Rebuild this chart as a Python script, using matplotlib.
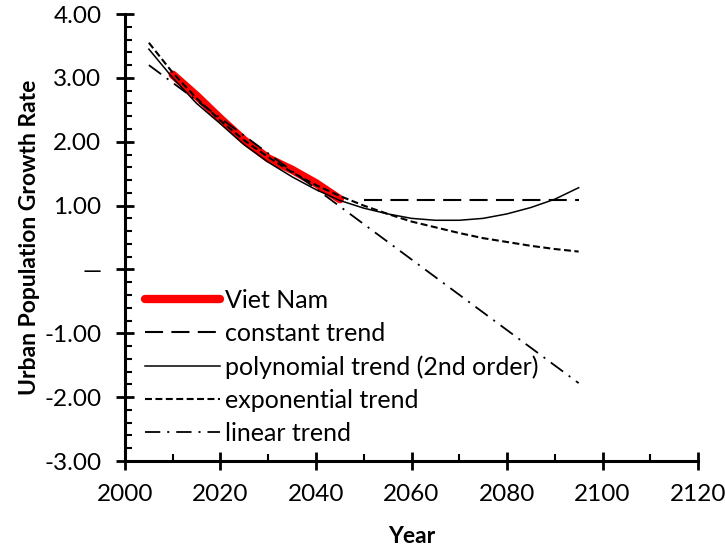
import matplotlib
matplotlib.use("Agg")
import matplotlib.pyplot as plt
from matplotlib.ticker import MultipleLocator, FuncFormatter

plt.rcParams['font.family'] = ['Lato', 'DejaVu Sans']
plt.rcParams['lines.scale_dashes'] = False

# observed series
vn_years = [2010, 2015, 2020, 2025, 2030, 2035, 2040, 2045]
vn_rate = [3.05, 2.72, 2.36, 2.02, 1.74, 1.56, 1.35, 1.10]

# trends
const_years = [2050, 2095]
const_rate = [1.08, 1.08]

trend_years = [2005, 2010, 2015, 2020, 2025, 2030, 2035, 2040, 2045, 2050,
               2055, 2060, 2065, 2070, 2075, 2080, 2085, 2090, 2095]
poly_rate = [3.45, 3.00, 2.60, 2.28, 1.95, 1.68, 1.45, 1.25, 1.08, 0.96,
             0.87, 0.80, 0.77, 0.77, 0.80, 0.87, 0.97, 1.10, 1.28]
exp_rate = [3.55, 3.08, 2.68, 2.33, 2.02, 1.76, 1.52, 1.32, 1.15, 1.00,
            0.87, 0.75, 0.66, 0.57, 0.49, 0.43, 0.37, 0.32, 0.28]

lin_years = [2005, 2095]
lin_rate = [3.20, -1.78]

fig = plt.figure(figsize=(7.25, 5.5), dpi=100)
ax = fig.add_axes([0.1724, 0.1618, 0.7904, 0.8127])

ax.plot(vn_years, vn_rate, color="red", lw=6, solid_capstyle="round", label="Viet Nam")
ax.plot(const_years, const_rate, color="black", lw=1.5, ls=(0, (13, 6)), label="constant trend")
ax.plot(trend_years, poly_rate, color="black", lw=1.1, label="polynomial trend (2nd order)")
ax.plot(trend_years, exp_rate, color="black", lw=1.5, ls=(0, (5, 2.5)), label="exponential trend")
ax.plot(lin_years, lin_rate, color="black", lw=1.3, ls=(0, (11, 5, 1.5, 5)), label="linear trend")

ax.set_xlim(2000, 2120)
ax.set_ylim(-3, 4)
ax.xaxis.set_major_locator(MultipleLocator(20))
ax.xaxis.set_minor_locator(MultipleLocator(10))
ax.yaxis.set_major_locator(MultipleLocator(1))
ax.yaxis.set_minor_locator(MultipleLocator(0.2))
ax.yaxis.set_major_formatter(FuncFormatter(lambda v, p: "—" if abs(v) < 1e-9 else "%.2f" % v))

for s in ["top", "right"]:
    ax.spines[s].set_visible(False)
for s in ["left", "bottom"]:
    ax.spines[s].set_linewidth(2.2)

ax.tick_params(which="major", direction="inout", length=13, width=2, labelsize=17.5)
ax.tick_params(axis="x", which="major", pad=10)
ax.tick_params(axis="y", which="major", pad=10.5)
ax.tick_params(which="minor", direction="in", length=5, width=1.5)

ax.set_xlabel("Year", fontsize=16.5, fontweight="bold", labelpad=15)
ax.set_ylabel("Urban Population Growth Rate", fontsize=16.5, fontweight="bold", labelpad=3)

ax.legend(loc="upper left", bbox_to_anchor=(0.035, 0.385), frameon=False, fontsize=18,
          handlelength=3.0, handletextpad=0.2, labelspacing=0.4, borderpad=0, borderaxespad=0)

fig.savefig("out.png", dpi=100)
